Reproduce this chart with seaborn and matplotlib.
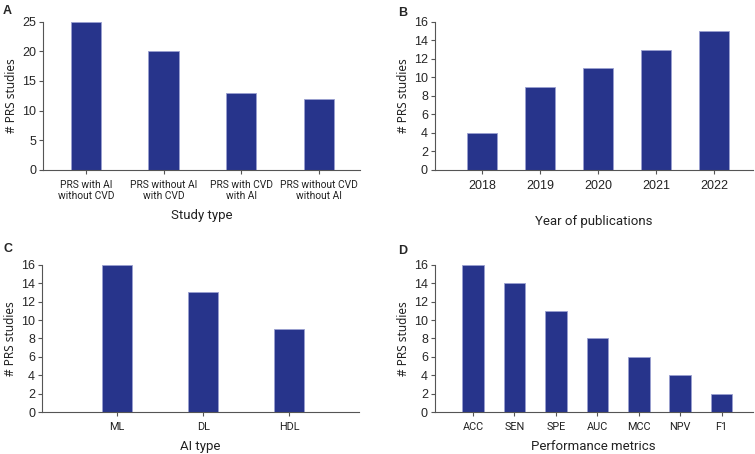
import pandas as pd
import matplotlib
matplotlib.use("Agg")
import matplotlib.pyplot as plt
import seaborn as sns

# DATA

study_types = ["PRS with AI\nwithout CVD", "PRS without AI\nwith CVD",
               "PRS with CVD\nwith AI", "PRS without CVD\nwithout AI"]
study_counts = [25, 20, 13, 12]

years = ["2018", "2019", "2020", "2021", "2022"]
year_counts = [4, 9, 11, 13, 15]

ai_types = ["ML", "DL", "HDL"]
ai_counts = [16, 13, 9]

metrics = ["ACC", "SEN", "SPE", "AUC", "MCC", "NPV", "F1"]
metric_counts = [16, 14, 11, 8, 6, 4, 2]

# STYLE

sns.set_style("white")
plt.rcParams["font.family"] = ["Liberation Sans", "DejaVu Sans"]

bar_color = "#27348b"
edge_color = "#9aa0d0"
spine_color = "#555555"
label_font = "Roboto"

fig = plt.figure(figsize=(7.55, 4.54), dpi=100)

panels = [
    # letter, cats, vals, xlabel, ymax, yticks, rect, width, xlim, letter pos,
    # tick font, tick size, xlabel pad
    ("A", study_types, study_counts, "Study type", 25, range(0, 26, 5),
     [0.057, 0.626, 0.420, 0.326], 0.39, (-0.55, 3.53), (0.004, 0.990),
     label_font, 7.4, 6),
    ("B", years, year_counts, "Year of publications", 16, range(0, 17, 2),
     [0.576, 0.626, 0.421, 0.326], 0.52, (-0.81, 4.67), (0.527, 0.985),
     "Liberation Sans", 9, 17),
    ("C", ai_types, ai_counts, "AI type", 16, range(0, 17, 2),
     [0.0556, 0.0925, 0.420, 0.324], 0.35, (-0.87, 2.81), (0.004, 0.465),
     label_font, 7.8, 6),
    ("D", metrics, metric_counts, "Performance metrics", 16, range(0, 17, 2),
     [0.576, 0.0925, 0.421, 0.324], 0.52, (-0.92, 6.75), (0.527, 0.460),
     label_font, 7.8, 6),
]

for letter, cats, vals, xlab, ymax, yt, rect, w, xl, lpos, tf, ts, lp in panels:
    ax = fig.add_axes(rect)
    df = pd.DataFrame({"cat": cats, "val": vals})
    sns.barplot(data=df, x="cat", y="val", color=bar_color, width=w,
                edgecolor=edge_color, linewidth=0.6, saturation=1, ax=ax)
    ax.set_ylim(0, ymax)
    ax.set_xlim(*xl)
    ax.set_yticks(list(yt))
    ax.tick_params(axis="y", labelsize=9, length=3, width=0.8,
                   color=spine_color, pad=2, left=True)
    ax.tick_params(axis="x", length=3, width=0.8, color=spine_color,
                   pad=4, bottom=True)
    for t in ax.get_xticklabels():
        t.set_family(tf)
        t.set_fontsize(ts)
        t.set_color("#222222")
    ax.set_ylabel("# PRS studies", fontsize=8.5, family="Noto Sans",
                  color="#222222", labelpad=3)
    ax.set_xlabel(xlab, fontsize=9.5, family=label_font, color="#222222",
                  labelpad=lp)
    sns.despine(ax=ax, top=True, right=True)
    for s in ["left", "bottom"]:
        ax.spines[s].set_color(spine_color)
        ax.spines[s].set_linewidth(0.8)
    fig.text(lpos[0], lpos[1], letter, fontsize=9, fontweight="bold",
             va="top", ha="left")

plt.savefig("out.png", dpi=100)
